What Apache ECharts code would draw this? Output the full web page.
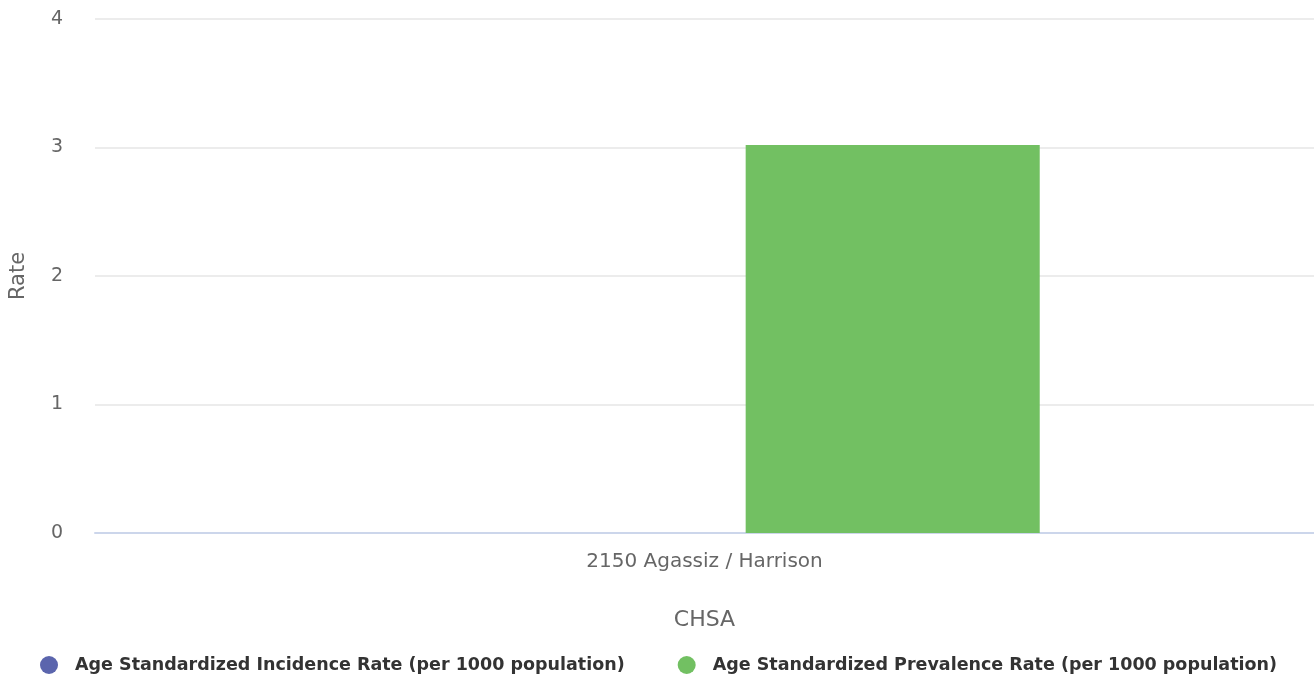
<!DOCTYPE html>
<html><head><meta charset="utf-8">
<script src="https://cdn.jsdelivr.net/npm/echarts@6/dist/echarts.min.js"></script>
<style>html,body{margin:0;padding:0;background:#fff}#c{width:1314px;height:677px}</style>
</head><body><div id="c"></div>
<script>
const categories = ["2150 Agassiz / Harrison"];
const incidence = [0];
const prevalence = [3.02];
const seriesNames = ["Age Standardized Incidence Rate (per 1000 population)", "Age Standardized Prevalence Rate (per 1000 population)"];
const yTicks = [0, 1, 2, 3, 4];

const font = "'DejaVu Sans', Verdana, sans-serif";
const chart = echarts.init(document.getElementById('c'));
chart.setOption({
  animation: false,
  textStyle: {fontFamily: font},
  grid: {left: 93, right: 0, top: 19, bottom: 144, containLabel: false},
  legend: {
    bottom: -2, left: 35, itemGap: 53, icon: 'circle', itemWidth: 18, itemHeight: 18,
    textStyle: {fontFamily: font, fontSize: 17.5, fontWeight: 'bold', color: '#333', padding: [0, 0, 0, 12]},
    data: seriesNames
  },
  xAxis: {
    type: 'category', data: categories,
    name: 'CHSA', nameLocation: 'middle', nameGap: 76,
    nameTextStyle: {fontFamily: font, fontSize: 22, color: '#666'},
    axisLine: {lineStyle: {color: '#ccd6eb', width: 2}},
    axisTick: {show: false},
    axisLabel: {fontFamily: font, fontSize: 20, color: '#666', margin: 19}
  },
  yAxis: {
    type: 'value', min: yTicks[0], max: yTicks[yTicks.length - 1], interval: 1,
    name: 'Rate', nameLocation: 'middle', nameGap: 66,
    nameTextStyle: {fontFamily: font, fontSize: 21, color: '#666'},
    axisLabel: {fontFamily: font, fontSize: 19, color: '#666', margin: 32},
    splitLine: {lineStyle: {color: '#e6e6e6', width: 1.5}},
    axisLine: {show: false}, axisTick: {show: false}
  },
  series: [
    {name: seriesNames[0], type: 'bar', data: incidence, itemStyle: {color: '#5b65ad'},
     barCategoryGap: '45%', barGap: '28%'},
    {name: seriesNames[1], type: 'bar', data: prevalence, itemStyle: {color: '#72c062'},
     barCategoryGap: '45%', barGap: '28%'}
  ]
});
</script></body></html>
